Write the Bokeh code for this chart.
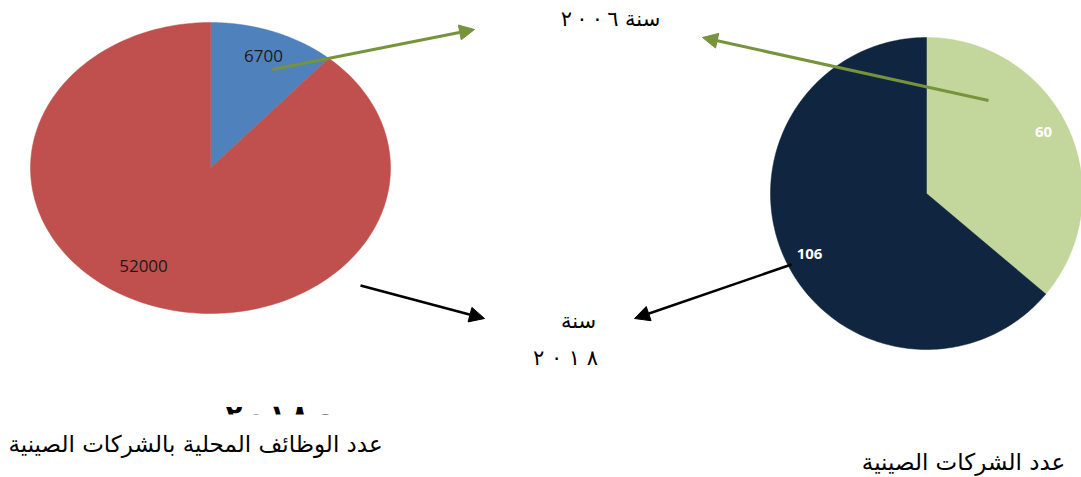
import numpy as np
from bokeh.plotting import figure
from bokeh.models import Range1d, Arrow, NormalHead, Label
from bokeh.core.properties import value
from bokeh.embed import file_html
from bokeh.resources import INLINE

# ---- data ----
jobs_labels = ["6700", "52000"]
jobs_values = [6700, 52000]
jobs_colors = ["#4F81BD", "#C0504D"]

firms_labels = ["60", "106"]
firms_values = [60, 106]
firms_colors = ["#C3D69B", "#10253F"]

NNB = "\u202f"   # narrow no-break space (keeps Arabic-Indic digits in one run)
NB = "\u00a0"
title_2006 = "سنة " + NNB.join("٢٠٠٦")
title_2018_a = "سنة"
title_2018_b = NB.join("٢٠١٨")
caption_year = "\u202d" + NNB.join("٢٠١٨م") + "\u202c"
caption_jobs = "عدد الوظائف المحلية بالشركات الصينية"
caption_firms = "عدد الشركات الصينية"

W, H = 1081, 477
p = figure(width=W, height=H, x_range=Range1d(0, W), y_range=Range1d(H, 0),
           output_backend="svg", toolbar_location=None, min_border=0)
p.axis.visible = False
p.grid.visible = False
p.outline_line_color = None
p.background_fill_color = "white"
p.border_fill_color = "white"


def pie(values, colors, cx, cy, rx, ry):
    v = np.asarray(values, dtype=float)
    edges = np.concatenate([[0], np.cumsum(v) / v.sum()]) * 2 * np.pi
    xs, ys = [], []
    for a0, a1 in zip(edges[:-1], edges[1:]):
        t = np.linspace(a0, a1, 200)
        xs.append(np.concatenate([[cx], cx + rx * np.sin(t)]).tolist())
        ys.append(np.concatenate([[cy], cy - ry * np.cos(t)]).tolist())
    p.patches(xs, ys, fill_color=colors, line_color=colors, line_width=0.5)
    return edges


# left pie (elliptical)
pie(jobs_values, jobs_colors, 210, 167.5, 180, 145.5)
# right pie
pie(firms_values, firms_colors, 926, 193, 156, 156)

# slice labels (placed where the reference puts them)
for txt, (lx, ly) in zip(jobs_labels, [(263, 55), (143, 265)]):
    p.add_layout(Label(x=lx, y=ly, text=txt, text_align="center", text_baseline="middle",
                       text_font="Open Sans", text_font_size="17px", text_color="#1a1a1a"))
for txt, (lx, ly) in zip(firms_labels, [(1043, 131), (809, 253)]):
    p.add_layout(Label(x=lx, y=ly, text=txt, text_align="center", text_baseline="middle",
                       text_font="Open Sans", text_font_style="bold", text_font_size="15px",
                       text_color="white"))

# arrows
green = "#77933C"
for (x0, y0, x1, y1) in [(272, 69, 474, 29), (988, 100, 702, 37)]:
    p.add_layout(Arrow(end=NormalHead(size=15, fill_color=green, line_color=green),
                       x_start=x0, y_start=y0, x_end=x1, y_end=y1,
                       line_color=green, line_width=3))
for (x0, y0, x1, y1) in [(360, 285, 484, 318), (791, 264, 634, 318)]:
    p.add_layout(Arrow(end=NormalHead(size=15, fill_color="black", line_color="black"),
                       x_start=x0, y_start=y0, x_end=x1, y_end=y1,
                       line_color="black", line_width=2.5))

ar = "DejaVu Sans"
p.add_layout(Label(x=610, y=18, text=title_2006, text_align="center", text_baseline="middle",
                   text_font=ar, text_font_size="21px", text_color="black"))
p.add_layout(Label(x=578, y=320, text=title_2018_a, text_align="center", text_baseline="middle",
                   text_font=ar, text_font_size="21px", text_color="black"))
p.add_layout(Label(x=565, y=357, text=title_2018_b, text_align="center", text_baseline="middle",
                   text_font=ar, text_font_size="21px", text_color="black"))

# bold year caption, its lower half hidden by a white band (as in the reference)
p.text(x=[279], y=[414], text=[caption_year], text_align="center", text_baseline="middle",
       text_font=value(ar), text_font_style="bold", text_font_size="27px", text_color="black")
p.quad(left=[180], right=[380], top=[414], bottom=[431], fill_color="white", line_color=None)

p.add_layout(Label(x=195, y=443, text=caption_jobs, text_align="center", text_baseline="middle",
                   text_font=ar, text_font_size="23px", text_color="black"))
p.add_layout(Label(x=963, y=461, text=caption_firms, text_align="center", text_baseline="middle",
                   text_font=ar, text_font_size="23px", text_color="black"))

open("out.html", "w").write(file_html(p, INLINE))
